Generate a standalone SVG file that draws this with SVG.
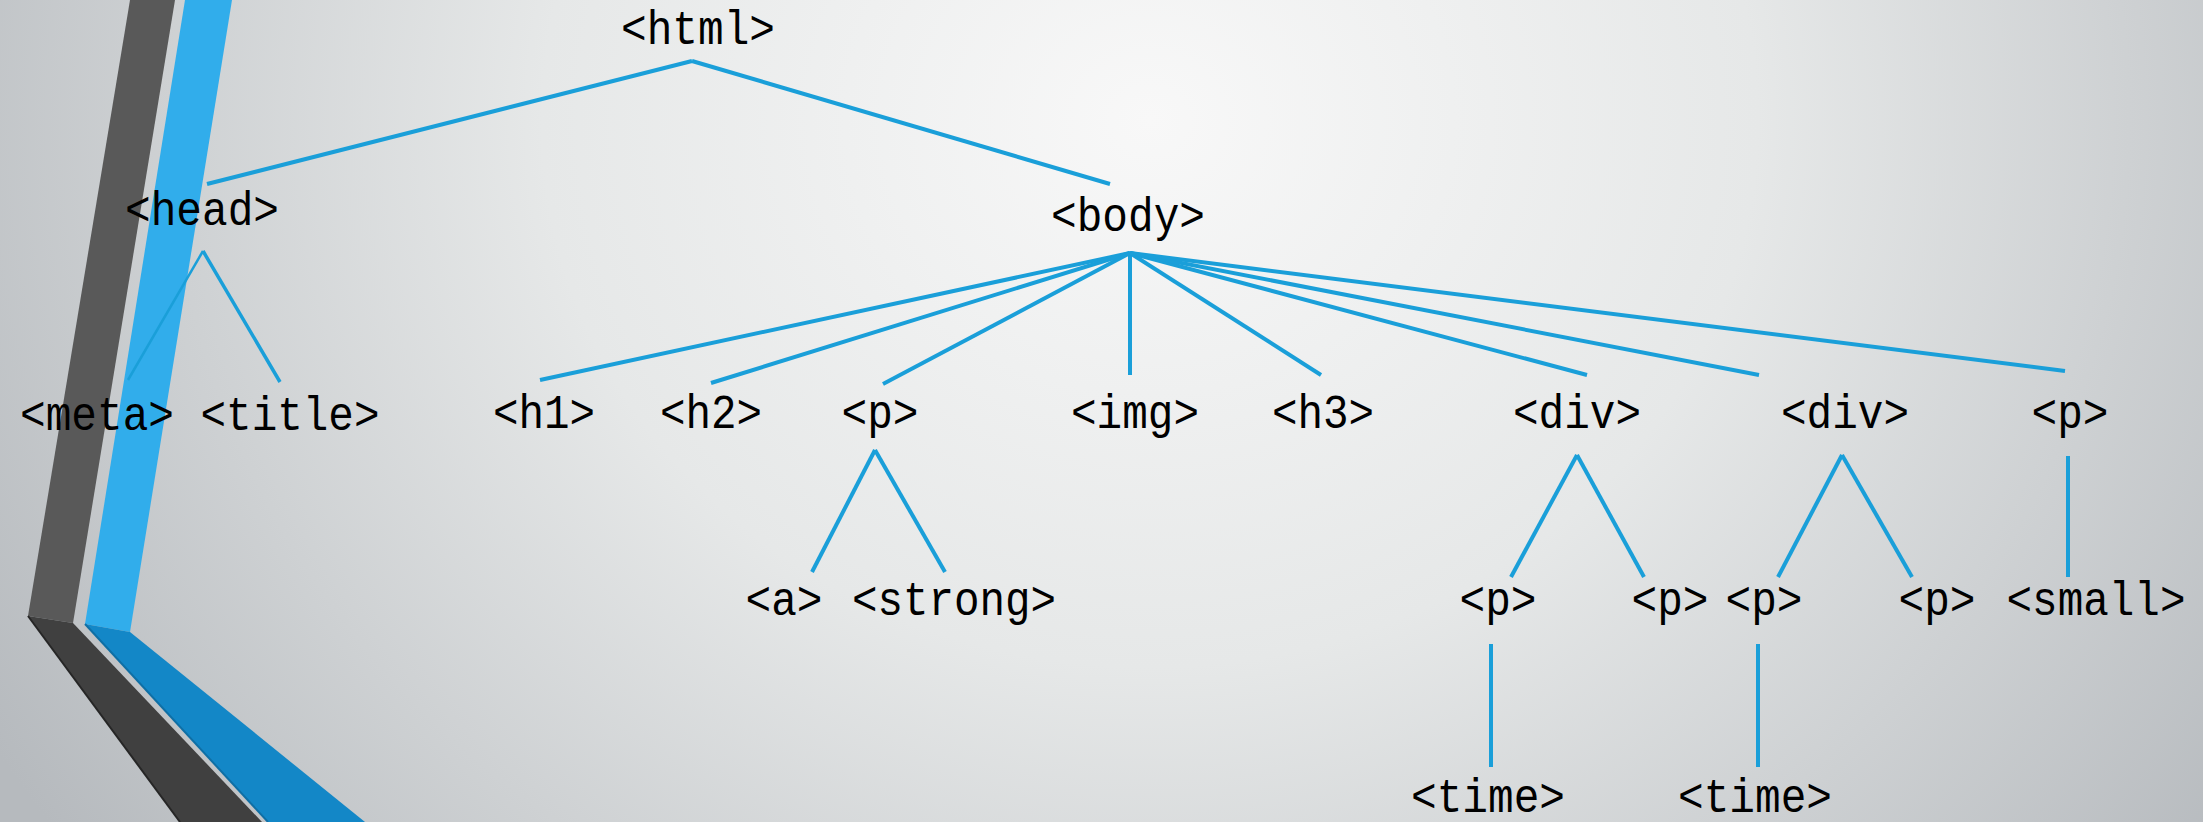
<svg xmlns="http://www.w3.org/2000/svg" width="2203" height="822" viewBox="0 0 2203 822">
<defs>
<radialGradient id="bg" gradientUnits="userSpaceOnUse" cx="1150" cy="120" r="1350" gradientTransform="translate(1150 120) scale(1 0.9) translate(-1150 -120)">
<stop offset="0" stop-color="#f8f8f8"/>
<stop offset="0.45" stop-color="#e6e8e8"/>
<stop offset="1" stop-color="#b6babe"/>
</radialGradient>
<style>
.t{font-family:"Liberation Mono","DejaVu Sans Mono",monospace;font-size:48px;fill:#000;text-anchor:middle}
.c line{stroke:#1a9fd9;stroke-width:4;stroke-linecap:butt}
</style>
</defs>
<rect x="0" y="0" width="2203" height="822" fill="url(#bg)"/>
<g id="decoration">
<polygon points="130,0 175,0 73,623 28,616" fill="#595959"/>
<polygon points="28,616 73,623 262,822 180,822" fill="#404040"/>
<line x1="28" y1="616" x2="180" y2="822" stroke="#262626" stroke-width="2"/>
<polygon points="185,0 232,0 130,632 85,624" fill="#31adeb"/>
<polygon points="85,624 130,632 365,822 268,822" fill="#1387c7"/>
<line x1="85" y1="624" x2="268" y2="822" stroke="#0f6fa5" stroke-width="2"/>
</g>
<g id="connectors" class="c">
<line x1="692" y1="61" x2="207" y2="184"/>
<line x1="692" y1="61" x2="1110" y2="184"/>
<line x1="203" y1="251" x2="128" y2="380" style="stroke-width:2.5"/>
<line x1="203" y1="251" x2="280" y2="382" style="stroke-width:3.5"/>
<line x1="1130" y1="253" x2="540" y2="380"/>
<line x1="1130" y1="253" x2="711" y2="383"/>
<line x1="1130" y1="253" x2="883" y2="384"/>
<line x1="1130" y1="253" x2="1130" y2="375"/>
<line x1="1130" y1="253" x2="1321" y2="375"/>
<line x1="1130" y1="253" x2="1587" y2="375"/>
<line x1="1130" y1="253" x2="1759" y2="375"/>
<line x1="1130" y1="253" x2="2065" y2="371"/>
<line x1="875" y1="450" x2="812" y2="572"/>
<line x1="875" y1="450" x2="945" y2="572"/>
<line x1="1577" y1="455" x2="1511" y2="577"/>
<line x1="1577" y1="455" x2="1644" y2="577"/>
<line x1="1842" y1="455" x2="1778" y2="577"/>
<line x1="1842" y1="455" x2="1912" y2="577"/>
<line x1="2068" y1="456" x2="2068" y2="577"/>
<line x1="1491" y1="644" x2="1491" y2="767"/>
<line x1="1758" y1="644" x2="1758" y2="767"/>
</g>
<g id="n-html"><text class="t" x="698" y="44" textLength="154" lengthAdjust="spacingAndGlyphs">&lt;html&gt;</text></g>
<g id="n-head"><text class="t" x="202" y="225" textLength="154" lengthAdjust="spacingAndGlyphs">&lt;head&gt;</text></g>
<g id="n-body"><text class="t" x="1128" y="231" textLength="154" lengthAdjust="spacingAndGlyphs">&lt;body&gt;</text></g>
<g id="n-meta"><text class="t" x="97" y="430" textLength="154" lengthAdjust="spacingAndGlyphs">&lt;meta&gt;</text></g>
<g id="n-title"><text class="t" x="290" y="430" textLength="179" lengthAdjust="spacingAndGlyphs">&lt;title&gt;</text></g>
<g id="n-h1"><text class="t" x="544" y="428" textLength="102" lengthAdjust="spacingAndGlyphs">&lt;h1&gt;</text></g>
<g id="n-h2"><text class="t" x="711" y="428" textLength="102" lengthAdjust="spacingAndGlyphs">&lt;h2&gt;</text></g>
<g id="n-p1"><text class="t" x="880" y="428" textLength="77" lengthAdjust="spacingAndGlyphs">&lt;p&gt;</text></g>
<g id="n-img"><text class="t" x="1135" y="428" textLength="128" lengthAdjust="spacingAndGlyphs">&lt;img&gt;</text></g>
<g id="n-h3"><text class="t" x="1323" y="428" textLength="102" lengthAdjust="spacingAndGlyphs">&lt;h3&gt;</text></g>
<g id="n-div1"><text class="t" x="1577" y="428" textLength="128" lengthAdjust="spacingAndGlyphs">&lt;div&gt;</text></g>
<g id="n-div2"><text class="t" x="1845" y="428" textLength="128" lengthAdjust="spacingAndGlyphs">&lt;div&gt;</text></g>
<g id="n-p2"><text class="t" x="2070" y="428" textLength="77" lengthAdjust="spacingAndGlyphs">&lt;p&gt;</text></g>
<g id="n-a"><text class="t" x="784" y="615" textLength="77" lengthAdjust="spacingAndGlyphs">&lt;a&gt;</text></g>
<g id="n-strong"><text class="t" x="954" y="615" textLength="204" lengthAdjust="spacingAndGlyphs">&lt;strong&gt;</text></g>
<g id="n-p3"><text class="t" x="1498" y="615" textLength="77" lengthAdjust="spacingAndGlyphs">&lt;p&gt;</text></g>
<g id="n-p4"><text class="t" x="1670" y="615" textLength="77" lengthAdjust="spacingAndGlyphs">&lt;p&gt;</text></g>
<g id="n-p5"><text class="t" x="1764" y="615" textLength="77" lengthAdjust="spacingAndGlyphs">&lt;p&gt;</text></g>
<g id="n-p6"><text class="t" x="1937" y="615" textLength="77" lengthAdjust="spacingAndGlyphs">&lt;p&gt;</text></g>
<g id="n-small"><text class="t" x="2096" y="615" textLength="179" lengthAdjust="spacingAndGlyphs">&lt;small&gt;</text></g>
<g id="n-time1"><text class="t" x="1488" y="812" textLength="154" lengthAdjust="spacingAndGlyphs">&lt;time&gt;</text></g>
<g id="n-time2"><text class="t" x="1755" y="812" textLength="154" lengthAdjust="spacingAndGlyphs">&lt;time&gt;</text></g>
</svg>
